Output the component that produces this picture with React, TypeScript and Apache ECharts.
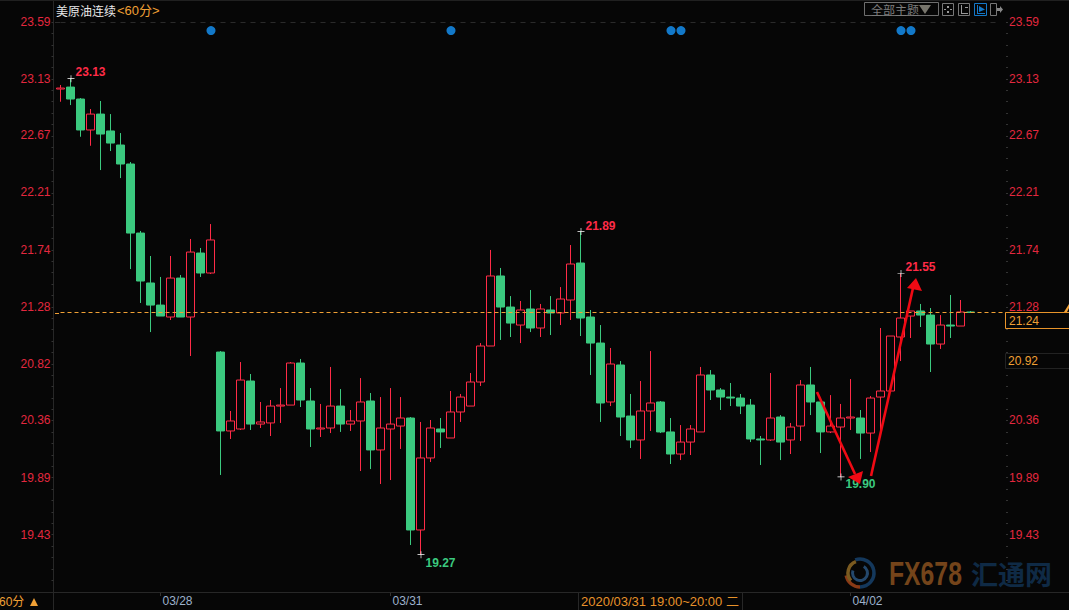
import React, { useEffect, useRef } from "react";
import * as echarts from "echarts";

const yTicks = [23.59, 23.13, 22.67, 22.21, 21.74, 21.28, 20.82, 20.36, 19.89, 19.43];
const yTicksRight = [23.59, 23.13, 22.67, 22.21, 21.74, 21.28, 20.36, 19.89, 19.43];
const minorTicks = [
  23.59, 23.498, 23.405, 23.313, 23.22, 23.128, 23.036, 22.943, 22.851, 22.758, 22.666, 22.574, 22.481, 22.389,
  22.296, 22.204, 22.112, 22.019, 21.927, 21.834, 21.742, 21.65, 21.557, 21.465, 21.372, 21.28, 21.188, 21.095,
  21.003, 20.91, 20.818, 20.726, 20.633, 20.541, 20.448, 20.356, 20.264, 20.171, 20.079, 19.986, 19.894, 19.802,
  19.709, 19.617, 19.524, 19.432, 19.34, 19.247, 19.155, 19.062,
];
const dateTicks: Record<number, string> = { 10: "03/28", 33: "03/31", 79: "04/02" };

const opens = [
  23.046, 23.062, 22.965, 22.714, 22.843, 22.706, 22.592, 22.438, 21.878, 21.473, 21.294, 21.197, 21.513, 21.197, 21.716, 21.554,
  20.913, 20.273, 20.289, 20.678, 20.329, 20.338, 20.475, 20.483, 20.824, 20.516, 20.289, 20.297, 20.475, 20.329, 20.354, 20.516,
  20.119, 20.289, 20.313, 20.378, 19.47, 20.054, 20.289, 20.216, 20.427, 20.475, 20.67, 20.962, 21.53, 21.278, 21.132, 21.262,
  21.108, 21.254, 21.23, 21.335, 21.635, 21.197, 20.986, 20.508, 20.808, 20.394, 20.2, 20.435, 20.508, 20.265, 20.086, 20.183,
  20.265, 20.727, 20.605, 20.548, 20.54, 20.483, 20.208, 20.2, 20.386, 20.2, 20.313, 20.646, 20.508, 20.265, 20.305, 20.378,
  20.378, 20.256, 20.548, 20.597, 21.035, 21.205, 21.246, 21.213, 20.978, 21.132, 21.124, 21.238,
];
const closes = [
  23.054, 22.965, 22.714, 22.843, 22.681, 22.608, 22.438, 21.878, 21.489, 21.294, 21.205, 21.513, 21.197, 21.724, 21.554, 21.822,
  20.273, 20.354, 20.686, 20.329, 20.346, 20.475, 20.483, 20.824, 20.524, 20.289, 20.297, 20.475, 20.329, 20.354, 20.508, 20.119,
  20.297, 20.329, 20.378, 19.47, 20.054, 20.297, 20.265, 20.427, 20.548, 20.67, 20.962, 21.53, 21.278, 21.148, 21.254, 21.108,
  21.262, 21.23, 21.343, 21.627, 21.189, 20.986, 20.5, 20.816, 20.386, 20.2, 20.435, 20.5, 20.265, 20.086, 20.183, 20.289,
  20.727, 20.605, 20.548, 20.54, 20.475, 20.208, 20.2, 20.378, 20.183, 20.305, 20.646, 20.508, 20.265, 20.313, 20.378, 20.386,
  20.256, 20.54, 20.597, 21.043, 21.189, 21.246, 21.213, 20.978, 21.132, 21.124, 21.238, 21.234,
];
const lows = [
  22.943, 22.916, 22.659, 22.586, 22.389, 22.543, 22.324, 21.586, 21.311, 21.075, 21.205, 21.173, 21.197, 20.881, 21.522, 21.546,
  19.916, 20.208, 20.281, 20.281, 20.297, 20.232, 20.338, 20.483, 20.467, 20.143, 20.224, 20.256, 20.265, 20.273, 19.948, 19.964,
  19.843, 19.875, 20.127, 19.348, 19.27, 20.021, 20.135, 20.216, 20.346, 20.475, 20.638, 20.962, 21.011, 21.035, 20.986, 21.075,
  21.035, 21.051, 21.132, 21.173, 21.043, 20.727, 20.346, 20.475, 20.232, 20.135, 20.046, 20.273, 20.256, 20.005, 20.037, 20.078,
  20.265, 20.524, 20.443, 20.475, 20.41, 20.183, 19.997, 20.192, 20.037, 20.086, 20.192, 20.402, 20.094, 20.256, 19.9, 20.281,
  20.046, 20.102, 20.256, 20.597, 20.84, 21.027, 21.116, 20.751, 20.938, 21.027, 21.124, 21.23,
];
const highs = [
  23.079, 23.13, 22.973, 22.884, 22.949, 22.843, 22.689, 22.454, 21.895, 21.692, 21.522, 21.692, 21.538, 21.83, 21.757, 21.951,
  20.921, 20.435, 20.832, 20.735, 20.508, 20.524, 20.621, 20.832, 20.857, 20.621, 20.492, 20.792, 20.613, 20.443, 20.702, 20.581,
  20.548, 20.621, 20.548, 20.386, 20.346, 20.362, 20.378, 20.597, 20.573, 20.743, 20.986, 21.741, 21.595, 21.367, 21.327, 21.416,
  21.303, 21.367, 21.44, 21.781, 21.89, 21.254, 21.132, 20.946, 20.84, 20.573, 20.678, 20.921, 20.516, 20.378, 20.321, 20.321,
  20.792, 20.767, 20.621, 20.662, 20.573, 20.532, 20.232, 20.743, 20.402, 20.338, 20.686, 20.792, 20.516, 20.564, 20.492, 20.694,
  20.443, 20.556, 21.108, 21.043, 21.55, 21.246, 21.303, 21.27, 21.213, 21.376, 21.335, 21.246,
];

const extremeIndex = [1, 36, 52, 78, 84];
const extremeValues = [23.13, 19.27, 21.89, 19.9, 21.55];
const extremeTexts = ["23.13", "19.27", "21.89", "19.90", "21.55"];
const extremeIsHigh = [true, false, true, false, true];
const extremeLabelShift = [-7, 8, -6, 7, -7];

const eventIndex = [15, 39, 61, 62, 84, 85];
const eventLevel = 23.52;
const currentPrice = 21.235;
const topPrice = 23.59;

const BG = "#060606";
const RED = "#FF2B47";
const GREEN = "#3BC97F";
const AXISRED = "#E3283F";
const ORANGE = "#F0A035";
const LINE = "#272727";
const FONT = '"Liberation Sans", "Noto Sans CJK SC", sans-serif';
const CJK = '"Noto Sans CJK SC", sans-serif';

const BAND_COUNT = 101;
const categories = Array.from({ length: BAND_COUNT }, (_, i) => dateTicks[i] ?? String(i));
const candles = opens.map((o, i) => [o, closes[i], lows[i], highs[i]]);

const txt = (text: string, x: number, y: number, fill: string, fontSize = 12, extra: any = {}, family = FONT) => ({
  type: "text",
  silent: true,
  z: 20,
  x,
  y,
  style: { text, fill, font: `${extra.bold ? "bold " : ""}${fontSize}px ${family}`, textVerticalAlign: "middle", textBaseline: "middle", textAlign: extra.align || "left" },
  ...(extra.scaleX ? { scaleX: extra.scaleX } : {}),
});
const ln = (x1: number, y1: number, x2: number, y2: number, stroke: string, lineWidth = 1, lineDash?: number[]) => ({
  type: "line",
  silent: true,
  z: 20,
  shape: { x1, y1, x2, y2 },
  style: { stroke, lineWidth, ...(lineDash ? { lineDash } : {}) },
});
const rc = (x: number, y: number, width: number, height: number, stroke: string, fill = "transparent", lineWidth = 1) => ({
  type: "rect",
  silent: true,
  z: 20,
  shape: { x, y, width, height },
  style: { stroke, fill, lineWidth },
});
const poly = (points: number[][], fill: string) => ({
  type: "polygon",
  silent: true,
  z: 30,
  shape: { points },
  style: { fill },
});
const arc = (cx: number, cy: number, r: number, a: number, b: number, stroke: string, lineWidth: number) => ({
  type: "arc",
  silent: true,
  z: 20,
  shape: { cx, cy, r, startAngle: (a * Math.PI) / 180, endAngle: (b * Math.PI) / 180 },
  style: { stroke, lineWidth, fill: "none" },
});

const chrome: any[] = [
  // frame
  ln(0, 0.5, 1069, 0.5, "#202020"),
  ln(0, 592.5, 1069, 592.5, LINE),
  ln(53.5, 592, 53.5, 610, LINE),
  ln(55, 313.5, 60, 313.5, "#F0A035", 1, [4, 3]),
  ln(1060, 313.5, 1069, 313.5, "#F0A035", 1, [4, 3]),
  ln(55, 22.5, 60, 22.5, "#2A2A2A", 1, [5, 5]),
  // title
  txt("美原油连续", 56, 10, "#E8E8E8", 12, {}, CJK),
  txt("<60分>", 117, 10, ORANGE, 13, {}, FONT),
  // toolbar
  rc(864.5, 2.5, 74, 13, "#6E6E6E"),
  txt("全部主题", 871, 9.5, "#7C7C7C", 12, {}, CJK),
  poly([[919, 5], [931, 5], [925, 14]], "#77756C"),
  rc(942.5, 3.5, 11, 12, "#777777"),
  poly([[947, 6], [949, 6], [949, 8], [947, 8]], "#999999"),
  poly([[947, 11], [949, 11], [949, 13], [947, 13]], "#999999"),
  poly([[944, 9], [946, 9], [946, 10], [944, 10]], "#999999"),
  poly([[950, 9], [952, 9], [952, 10], [950, 10]], "#999999"),
  rc(958.5, 3.5, 11, 12, "#777777"),
  ln(961.5, 5, 961.5, 14, "#999999"),
  ln(961, 13.5, 968, 13.5, "#999999"),
  ln(965, 7.5, 968, 7.5, "#999999"),
  rc(974.5, 3.5, 12, 12, "#1478C8"),
  ln(977.5, 5, 977.5, 14, "#1478C8"),
  ln(977, 13.5, 985, 13.5, "#1478C8"),
  poly([[979, 6], [985, 9.5], [979, 12]], "#1478C8"),
  rc(990.5, 3.5, 6, 12, "#777777"),
  poly([[997, 8], [1000, 8], [1000, 6], [1003, 9.5], [1000, 13], [1000, 11], [997, 11]], "#888888"),
  // bottom bar
  txt("60分", -1, 601.5, ORANGE, 12, {}, FONT),
  poly([[30, 606], [34, 598], [38, 606]], ORANGE),
  rc(578.5, 592.5, 164, 18, LINE),
  txt("2020/03/31 19:00~20:00 二", 581, 601, "#E8922A", 13, {}, FONT),
  // price boxes
  rc(1005.5, 312.5, 70, 16, "#E8942A", BG),
  txt("21.24", 1009, 321, ORANGE, 12),
  rc(1005.5, 353.5, 70, 15, "#222222", BG),
  txt("20.92", 1008, 361, ORANGE, 12),
  poly([[1064, 312], [1069, 304], [1069, 308], [1067, 312]], ORANGE),
  // hand-drawn arrows
  { ...ln(817, 392, 855, 474, "#F00A14", 2.6), z: 30 },
  poly([[848, 477], [863, 471], [860, 484]], "#F00A14"),
  { ...ln(871, 476, 913, 288, "#F00A14", 2.6), z: 30 },
  poly([[916, 278], [907, 288], [922, 291]], "#F00A14"),
  // watermark
  arc(860, 573, 14, -110, 90, "#14385C", 3.5),
  arc(860, 573, 14, 90, 170, "#8A3A16", 3.5),
  arc(860, 573, 12, 140, 250, "#7A5A20", 3.5),
  arc(860, 573, 7.5, -60, 200, "#24486C", 3),
  txt("FX678", 889, 574, "#74441A", 33, { bold: true, scaleX: 0.75 }, '"Liberation Sans Narrow", "Liberation Sans", sans-serif'),
  txt("汇通网", 971, 573, "#0F2A45", 27, { bold: true }, CJK),
];

const option: any = {
  animation: false,
  backgroundColor: BG,
  grid: { left: 55.5, top: 1, width: 1010, height: 591 },
  xAxis: {
    type: "category",
    data: categories,
    boundaryGap: true,
    axisLine: { show: false },
    axisTick: {
      show: true,
      alignWithLabel: true,
      length: 4,
      lineStyle: { color: "#333333" },
      interval: (i: number) => i in dateTicks,
    },
    axisLabel: {
      show: true,
      color: "#9DB2CC",
      fontFamily: FONT,
      fontSize: 12,
      align: "left",
      margin: 3,
      padding: [0, 0, 0, 2],
      interval: (i: number) => i in dateTicks,
    },
    splitLine: { show: false },
  },
  yAxis: [
    {
      type: "value",
      position: "left",
      offset: 2,
      min: 18.967,
      max: 23.76,
      axisLine: { show: true, lineStyle: { color: LINE } },
      axisTick: { show: true, length: 2, inside: false, lineStyle: { color: "#333333" }, customValues: minorTicks },
      axisLabel: { show: true, color: AXISRED, fontFamily: FONT, fontSize: 12, margin: 3, customValues: yTicks, formatter: (v: number) => v.toFixed(2) },
      splitLine: { show: false },
    },
    {
      type: "value",
      position: "right",
      offset: -59.5,
      min: 18.967,
      max: 23.76,
      axisLine: { show: false },
      axisTick: { show: true, length: 2, lineStyle: { color: "#333333" }, customValues: minorTicks },
      axisLabel: { show: true, color: AXISRED, fontFamily: FONT, fontSize: 12, margin: 3, customValues: yTicksRight, formatter: (v: number) => v.toFixed(2) },
      splitLine: { show: false },
    },
  ],
  series: [
    {
      type: "candlestick",
      data: candles,
      barWidth: 8,
      itemStyle: { color: BG, color0: GREEN, borderColor: RED, borderColor0: GREEN, borderWidth: 1 },
      markLine: {
        silent: true,
        symbol: "none",
        label: { show: false },
        z: 10,
        data: [
          [
            { coord: [0, currentPrice], lineStyle: { color: "#F0A035", type: [4, 3], width: 1 } },
            { coord: [BAND_COUNT - 1, currentPrice] },
          ],
          [
            { coord: [0, topPrice], lineStyle: { color: "#2A2A2A", type: [5, 5], width: 1 } },
            { coord: [94, topPrice] },
          ],
        ],
      },
    },
    {
      type: "scatter",
      silent: true,
      symbol: "circle",
      symbolSize: 9,
      symbolOffset: [0.5, 0],
      itemStyle: { color: "#1278C8", opacity: 1 },
      data: eventIndex.map((i) => [i, eventLevel]),
      z: 5,
    },
    {
      type: "scatter",
      silent: true,
      symbol: "path://M4.5 0h1v4.5H10v1H5.5V10h-1V5.5H0v-1h4.5z",
      symbolSize: 7,
      symbolOffset: [0.5, 0],
      itemStyle: { color: "#FFFFFF", opacity: 1 },
      z: 6,
      data: extremeIndex.map((i, k) => ({
        value: [i, extremeValues[k]],
        label: {
          show: true,
          position: "right",
          distance: 0,
          offset: [1, extremeLabelShift[k]],
          formatter: extremeTexts[k],
          color: extremeIsHigh[k] ? RED : GREEN,
          fontFamily: FONT,
          fontSize: 12,
          fontWeight: "bold",
        },
      })),
    },
  ],
  graphic: { elements: chrome },
};

export default function App() {
  const ref = useRef<HTMLDivElement>(null);
  useEffect(() => {
    document.body.style.margin = "0";
    document.body.style.background = BG;
    document.body.style.overflow = "hidden";
    const chart = echarts.init(ref.current!, undefined, { renderer: "svg" });
    chart.setOption(option);
    return () => chart.dispose();
  }, []);
  return <div ref={ref} style={{ width: 1069, height: 610, overflow: "hidden" }} />;
}
